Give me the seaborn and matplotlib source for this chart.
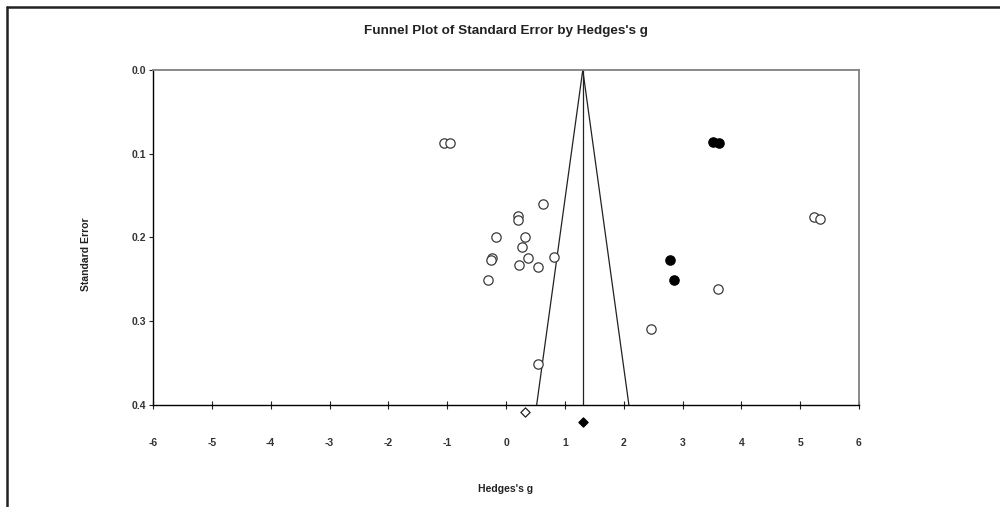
import matplotlib
matplotlib.use("Agg")
import matplotlib.pyplot as plt
import seaborn as sns
import numpy as np
import pandas as pd
from matplotlib.lines import Line2D

# Observed studies (open circles)
obs_g = [-1.06, -0.96, 0.63, 0.20, 0.20, -0.17, 0.33, 0.28, -0.24, -0.25,
         0.37, 0.82, 0.22, 0.54, -0.30, 0.55, 5.24, 5.34, 3.60, 2.46]
obs_se = [0.087, 0.087, 0.160, 0.174, 0.179, 0.199, 0.199, 0.211, 0.2245, 0.227,
          0.224, 0.223, 0.2325, 0.2356, 0.251, 0.351, 0.176, 0.178, 0.261, 0.309]

# Imputed studies (filled circles)
imp_g = [3.51, 3.62, 2.79, 2.85]
imp_se = [0.086, 0.087, 0.227, 0.251]

# Summary estimates (diamonds, drawn below the axis)
observed_est = 0.33
adjusted_est = 1.305
observed_diamond_y = 0.4085
adjusted_diamond_y = 0.4205

x_ticks = [-6, -5, -4, -3, -2, -1, 0, 1, 2, 3, 4, 5, 6]
y_ticks = [0.0, 0.1, 0.2, 0.3, 0.4]

sns.set_style("white")
plt.rcParams['font.family'] = ['Liberation Sans', 'DejaVu Sans']

fig = plt.figure(figsize=(10, 5.07), dpi=100)
ax = fig.add_axes([0.153, 0.2012, 0.706, 0.6608])

# Funnel lines
se_max = 0.4
funnel = pd.DataFrame({
    "g": [adjusted_est - 1.96 * se_max, adjusted_est, adjusted_est + 1.96 * se_max],
    "se": [se_max, 0.0, se_max],
})
ax.plot(funnel["g"], funnel["se"], color="#222222", lw=0.9)
ax.plot([adjusted_est, adjusted_est], [0, se_max], color="#222222", lw=0.9)

obs_df = pd.DataFrame({"g": obs_g, "se": obs_se})
imp_df = pd.DataFrame({"g": imp_g, "se": imp_se})
sns.scatterplot(data=obs_df, x="g", y="se", ax=ax, marker="o", s=45,
                facecolor="white", edgecolor="#3a3a3a", linewidth=0.9, zorder=3)
sns.scatterplot(data=imp_df, x="g", y="se", ax=ax, marker="o", s=45,
                color="black", edgecolor="black", linewidth=0.9, zorder=3)

sc1 = ax.scatter([observed_est], [observed_diamond_y], marker="D", s=22,
                 facecolor="white", edgecolor="#222222", linewidth=0.9, zorder=4)
sc2 = ax.scatter([adjusted_est], [adjusted_diamond_y], marker="D", s=22,
                 facecolor="black", edgecolor="black", linewidth=0.9, zorder=4)
sc1.set_clip_on(False)
sc2.set_clip_on(False)

ax.set_xlim(-6, 6)
ax.set_ylim(0.4, 0.0)
ax.set_xticks(x_ticks)
ax.set_xticklabels([str(t) for t in x_ticks])
ax.set_yticks(y_ticks)
ax.set_yticklabels([f"{t:.1f}" for t in y_ticks])

for side in ["left", "bottom"]:
    ax.spines[side].set_color("black")
    ax.spines[side].set_linewidth(1.0)
for side in ["top", "right"]:
    ax.spines[side].set_color("#808080")
    ax.spines[side].set_linewidth(1.3)

ax.tick_params(axis="x", direction="inout", length=6, width=0.8, pad=21,
               labelsize=7.5, bottom=True, colors="#222222")
ax.tick_params(axis="y", direction="out", length=3, width=0.8, pad=2,
               labelsize=7.5, left=True, colors="#222222")
for lab in ax.get_xticklabels() + ax.get_yticklabels():
    lab.set_fontweight("bold")
    lab.set_color("#333333")

ax.set_xlabel("Hedges's g", fontsize=7.5, fontweight="bold", color="#222222")
ax.set_ylabel("Standard Error", fontsize=7.5, fontweight="bold", color="#222222")
ax.xaxis.set_label_coords(0.5, -0.236)
ax.yaxis.set_label_coords(-0.088, 0.45)

fig.text(0.506, 1 - 31 / 507, "Funnel Plot of Standard Error by Hedges's g",
         ha="center", va="center", fontsize=9.7, fontweight="bold", color="#222222")

# Outer frame lines (top and left)
fig.add_artist(Line2D([0.007, 1.0], [1 - 7 / 507, 1 - 7 / 507], color="#222222",
                      lw=1.8, transform=fig.transFigure))
fig.add_artist(Line2D([0.007, 0.007], [0.0, 1 - 7 / 507], color="#222222",
                      lw=1.8, transform=fig.transFigure))

fig.savefig("out.png", dpi=100)
